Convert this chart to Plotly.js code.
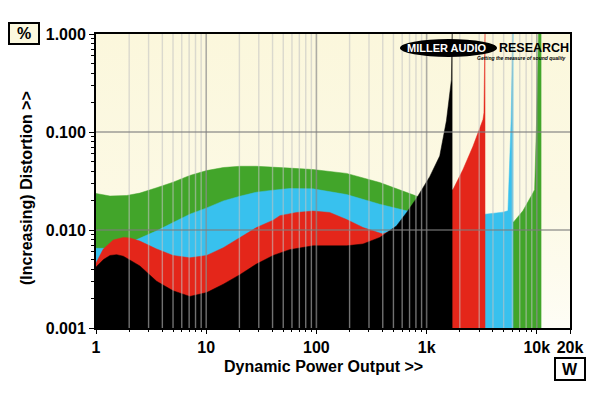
<!DOCTYPE html>
<html><head><meta charset="utf-8">
<script src="https://cdn.plot.ly/plotly-3.0.1.min.js"></script>
<style>
html,body{margin:0;padding:0;background:#fff;}
#wrap{position:relative;width:600px;height:393px;overflow:hidden;}
#bg{position:absolute;left:96px;top:34px;width:474px;height:294px;background:linear-gradient(to bottom,#fbf7dc 0%,#fcf9e4 55%,#fefdf5 100%);}
#chart{position:absolute;left:0;top:0;width:600px;height:393px;}
</style></head><body>
<div id="wrap"><div id="bg"></div><div id="chart"></div></div>
<script>
// ---- data (power in W, distortion in %) ----
const blackW   = [1, 1.17, 1.34, 1.54, 1.77, 2.5, 3.55, 5.0, 7.1, 10.1, 14.3, 20.2, 28.6, 40.5, 57, 93, 188, 265, 376, 532, 656, 808, 1067, 1315, 1512, 1678, 1714];
const blackPct = [0.0042, 0.0050, 0.0055, 0.0056, 0.0054, 0.0043, 0.0030, 0.0024, 0.0021, 0.0023, 0.0028, 0.0035, 0.0045, 0.0055, 0.0063, 0.0069, 0.0069, 0.0072, 0.0084, 0.011, 0.015, 0.021, 0.035, 0.057, 0.13, 0.34, 2];

const redW   = [1, 1.165, 1.435, 1.77, 2.03, 2.5, 3.55, 5.0, 7.1, 10.1, 14.3, 20.2, 28.6, 40.5, 46.6, 66, 93, 132, 188, 265, 400, 565, 1067, 1740, 2138, 2634, 3246, 3314, 3362, 3405];
const redPct = [0.0046, 0.0064, 0.0079, 0.0084, 0.0083, 0.0077, 0.0064, 0.0055, 0.0052, 0.0055, 0.0066, 0.0084, 0.0106, 0.0126, 0.0140, 0.0151, 0.0156, 0.0151, 0.0128, 0.0106, 0.0091, 0.0106, 0.0181, 0.026, 0.0415, 0.0714, 0.134, 0.157, 2, 2];

const cyanW   = [1, 1.34, 1.90, 2.5, 3.55, 5.0, 7.1, 10.1, 14.3, 20.2, 28.6, 40.5, 57, 93, 188, 376, 656, 1724, 3405, 4928, 5470, 5848, 5997, 6120];
const cyanPct = [0.0065, 0.0065, 0.0072, 0.0082, 0.0098, 0.0119, 0.0145, 0.0168, 0.0198, 0.0221, 0.0243, 0.0255, 0.0265, 0.0263, 0.0230, 0.0183, 0.0157, 0.0150, 0.0145, 0.0152, 0.0157, 0.134, 2, 2];

const greenW   = [1, 1.087, 1.34, 1.90, 2.5, 3.55, 5.0, 7.1, 10.1, 14.3, 20.2, 28.6, 40.5, 57, 93, 188, 376, 532, 808, 1067, 1724, 3405, 5500, 6163, 7481, 9220, 9550, 9960, 10500, 10990];
const greenPct = [0.0236, 0.0231, 0.0222, 0.0225, 0.0238, 0.0270, 0.0307, 0.0360, 0.0404, 0.0434, 0.0447, 0.0447, 0.0434, 0.0428, 0.0414, 0.0378, 0.0305, 0.0265, 0.0222, 0.019, 0.016, 0.013, 0.012, 0.0121, 0.0157, 0.0239, 0.0258, 0.134, 2, 2];

// ---- axis ticks ----
const xTickVals = [1, 10, 100, 1000, 10000, 20000];
const xTickText = ['1', '10', '100', '1k', '10k', '20k'];
const xMinorVals = [2,3,4,5,6,7,8,9, 20,30,40,50,60,70,80,90, 200,300,400,500,600,700,800,900, 2000,3000,4000,5000,6000,7000,8000,9000];
const xDecadeGrid = [10, 100, 1000, 10000];
const yTickVals = [0.001, 0.01, 0.1, 1];
const yTickText = ['0.001', '0.010', '0.100', '1.000'];
const yMinorVals = [0.002,0.003,0.004,0.005,0.006,0.007,0.008,0.009, 0.02,0.03,0.04,0.05,0.06,0.07,0.08,0.09, 0.2,0.3,0.4,0.5,0.6,0.7,0.8,0.9];
const yGrid = [0.01, 0.1];

const FONT = 'Liberation Sans, Arial, Helvetica, sans-serif';

function area(x, y, color) {
  return {x: x, y: y, type: 'scatter', mode: 'lines', fill: 'tozeroy',
          fillcolor: color, line: {color: color, width: 0.5}, hoverinfo: 'skip', showlegend: false};
}
function vLines(vals, color, width) {
  const x = [], y = [];
  vals.forEach(v => { x.push(v, v, null); y.push(yTickVals[0], yTickVals[3], null); });
  return {x: x, y: y, type: 'scatter', mode: 'lines', line: {color: color, width: width},
          hoverinfo: 'skip', showlegend: false};
}
function hLines(vals, color, width) {
  const x = [], y = [];
  vals.forEach(v => { x.push(xTickVals[0], xTickVals[5], null); y.push(v, v, null); });
  return {x: x, y: y, type: 'scatter', mode: 'lines', line: {color: color, width: width},
          hoverinfo: 'skip', showlegend: false};
}

const traces = [
  area(greenW, greenPct, '#42a52a'),
  area(cyanW, cyanPct, '#38c1ee'),
  area(redW, redPct, '#e4261a'),
  area(blackW, blackPct, '#000000'),
  vLines(xMinorVals, 'rgba(195,195,195,0.58)', 1.4),
  vLines(xDecadeGrid, 'rgba(140,140,140,0.7)', 1.6),
  hLines(yGrid, 'rgba(125,125,125,0.75)', 1.4)
];

// plot area: x 96..570, y 34..328
const L = 96, R = 570, T = 34, B = 328;
const px = v => (v - L) / (R - L);
const py = v => (B - v) / (B - T);

const tickFont = {family: FONT, size: 16, color: '#000', weight: 'bold'};

const layout = {
  width: 600, height: 393,
  margin: {l: L, r: 600 - R, t: T, b: 393 - B},
  paper_bgcolor: 'rgba(0,0,0,0)',
  plot_bgcolor: 'rgba(0,0,0,0)',
  showlegend: false,
  xaxis: {
    type: 'log', range: [0, Math.log10(20000)], autorange: false,
    tickmode: 'array', tickvals: xTickVals, ticktext: xTickText,
    ticks: 'outside', ticklen: 4, tickwidth: 1, tickcolor: '#000',
    minor: {tickmode: 'array', tickvals: xMinorVals, ticks: 'outside', ticklen: 2, tickwidth: 1, tickcolor: '#000', showgrid: false},
    showline: true, linecolor: '#000', linewidth: 2, mirror: true,
    showgrid: false, zeroline: false, tickfont: tickFont, layer: 'above traces'
  },
  yaxis: {
    type: 'log', range: [-3, 0], autorange: false,
    tickmode: 'array', tickvals: yTickVals, ticktext: yTickText,
    ticks: 'outside', ticklen: 5, tickwidth: 1, tickcolor: '#000',
    minor: {tickmode: 'array', tickvals: yMinorVals, ticks: 'outside', ticklen: 3, tickwidth: 1, tickcolor: '#000', showgrid: false},
    showline: true, linecolor: '#000', linewidth: 2, mirror: true,
    showgrid: false, zeroline: false, tickfont: tickFont, layer: 'above traces'
  },
  shapes: [
    {type: 'circle', xref: 'paper', yref: 'paper', x0: px(400), x1: px(497), y0: py(57), y1: py(39),
     fillcolor: '#000', line: {width: 0}, layer: 'above'}
  ],
  annotations: [
    {xref: 'paper', yref: 'paper', x: px(323), y: py(366), text: 'Dynamic Power Output >>', showarrow: false,
     xanchor: 'center', yanchor: 'middle', font: {family: FONT, size: 16, color: '#000', weight: 'bold'}},
    {xref: 'paper', yref: 'paper', x: px(26), y: py(188), text: '(Increasing) Distortion >>', showarrow: false,
     textangle: -90, xanchor: 'center', yanchor: 'middle', font: {family: FONT, size: 16, color: '#000', weight: 'bold'}},
    {xref: 'paper', yref: 'paper', x: px(24), y: py(33.5), text: '%', showarrow: false,
     xanchor: 'center', yanchor: 'middle', width: 28, height: 19, borderpad: 0, borderwidth: 2,
     bordercolor: '#000', bgcolor: '#fbf8de', font: {family: FONT, size: 16, color: '#000', weight: 'bold'}},
    {xref: 'paper', yref: 'paper', x: px(570), y: py(369), text: 'W', showarrow: false,
     xanchor: 'center', yanchor: 'middle', width: 28, height: 20, borderpad: 0, borderwidth: 2,
     bordercolor: '#000', bgcolor: '#ffffff', font: {family: FONT, size: 16, color: '#000', weight: 'bold'}},
    {xref: 'paper', yref: 'paper', x: px(446), y: py(48), text: 'MILLER AUDIO', showarrow: false,
     xanchor: 'center', yanchor: 'middle', font: {family: FONT, size: 11, color: '#fff', weight: 'bold'}},
    {xref: 'paper', yref: 'paper', x: px(497), y: py(48), text: 'RESEARCH', showarrow: false,
     xanchor: 'left', yanchor: 'middle', font: {family: FONT, size: 12.5, color: '#000', weight: 'bold'}},
    {xref: 'paper', yref: 'paper', x: px(568), y: py(58), text: '<i>Getting the measure of sound quality</i>', showarrow: false,
     xanchor: 'right', yanchor: 'middle', font: {family: FONT, size: 5, color: '#000', weight: 'bold'}}
  ]
};

Plotly.newPlot('chart', traces, layout, {staticPlot: true, displayModeBar: false});
</script>
</body></html>
